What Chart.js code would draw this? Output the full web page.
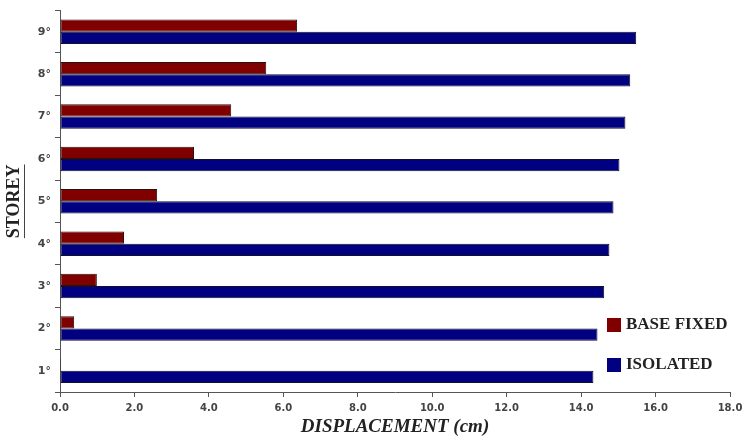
<!DOCTYPE html>
<html>
<head>
<meta charset="utf-8">
<script src="https://cdn.jsdelivr.net/npm/chart.js@4"></script>
<style>
  html, body { margin: 0; padding: 0; background: #fff; }
  #wrap { width: 744px; height: 437px; position: relative; }
</style>
</head>
<body>
<div id="wrap"><canvas id="chart"></canvas></div>
<script>
// Storeys, bottom to top
const storeys = ['1°', '2°', '3°', '4°', '5°', '6°', '7°', '8°', '9°'];

// Displacement values (cm)
const baseFixed = [0.03, 0.38, 0.99, 1.72, 2.61, 3.60, 4.60, 5.54, 6.37];
const isolated = [14.33, 14.44, 14.62, 14.76, 14.87, 15.03, 15.19, 15.32, 15.48];

// X axis range and steps
const xMin = 0;
const xMax = 18;
const xStep = 2;

// Legend drawn inside the plot, lower right
const insideLegend = {
  id: 'insideLegend',
  afterDraw(chart) {
    const ctx = chart.ctx;
    ctx.save();
    ctx.font = 'bold 17px "Liberation Serif"';
    ctx.textBaseline = 'middle';
    chart.data.datasets.forEach((ds, i) => {
      const y = 325 + i * 40;
      ctx.fillStyle = ds.backgroundColor;
      ctx.fillRect(607, y - 7, 14, 14);
      ctx.fillStyle = '#222';
      ctx.fillText(ds.label, 626, y);
    });
    // underline of the y title
    const yScale = chart.scales.y;
    const mid = (chart.chartArea.top + chart.chartArea.bottom) / 2;
    ctx.font = 'bold 18px "Liberation Serif"';
    const w = ctx.measureText(yScale.options.title.text).width;
    ctx.strokeStyle = '#444';
    ctx.lineWidth = 1;
    ctx.beginPath();
    ctx.moveTo(24.5, mid - w / 2);
    ctx.lineTo(24.5, mid + w / 2);
    ctx.stroke();
    ctx.restore();
  }
};

const ctx = document.getElementById('chart').getContext('2d');
const chart = new Chart(ctx, {
  type: 'bar',
  data: {
    labels: storeys,
    datasets: [{
      label: 'BASE FIXED',
      data: baseFixed,
      backgroundColor: '#800000',
      borderColor: '#2a1010',
      borderWidth: 1,
      borderSkipped: false
    }, {
      label: 'ISOLATED',
      data: isolated,
      backgroundColor: '#000080',
      borderColor: '#10102a',
      borderWidth: 1,
      borderSkipped: false
    }]
  },
  options: {
    indexAxis: 'y',
    responsive: true,
    maintainAspectRatio: false,
    animation: false,
    categoryPercentage: 0.58,
    barPercentage: 1,
    layout: {
      padding: { top: 7, right: 14, left: 0, bottom: 0 }
    },
    scales: {
      x: {
        min: xMin,
        max: xMax,
        afterFit(scale) {
          scale.height = 45;
          scale.paddingRight = 0;
        },
        border: { color: '#555' },
        grid: { drawOnChartArea: false, tickLength: 5, color: '#555' },
        ticks: {
          stepSize: xStep,
          padding: 5,
          color: '#444',
          font: { family: 'DejaVu Sans', size: 10, weight: 'bold' },
          callback: function(value) {
            return value.toFixed(1);
          }
        },
        title: {
          display: true,
          text: 'DISPLACEMENT (cm)',
          color: '#222',
          padding: { top: 0, bottom: -1 },
          font: { family: 'Liberation Serif', size: 19, weight: 'bold', style: 'italic' }
        }
      },
      y: {
        reverse: true,
        afterFit(scale) { scale.width = 60; },
        border: { color: '#555' },
        grid: { drawOnChartArea: false, tickLength: 5, color: '#555' },
        ticks: {
          padding: 4,
          color: '#444',
          font: { family: 'DejaVu Sans', size: 11, weight: 'bold' }
        },
        title: {
          display: true,
          text: 'STOREY',
          color: '#222',
          padding: { top: 4, bottom: 0 },
          font: { family: 'Liberation Serif', size: 18, weight: 'bold' }
        }
      }
    },
    plugins: {
      legend: { display: false },
      tooltip: { enabled: false }
    }
  },
  plugins: [insideLegend]
});
</script>
</body>
</html>
